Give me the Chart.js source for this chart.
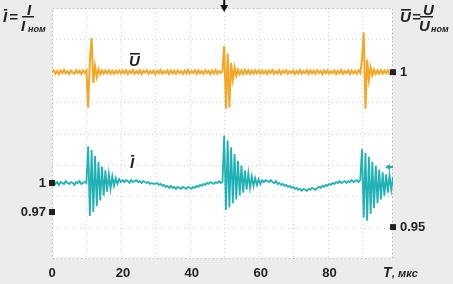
<!DOCTYPE html>
<html lang="ru">
<head>
  <meta charset="UTF-8">
  <title>U и I во времени</title>
  <script src="https://cdn.jsdelivr.net/npm/chart.js"></script>
  <style>
    body {
      margin: 0;
      padding: 0;
      background: #ececec;
    }
    canvas {
      display: block;
    }
  </style>
</head>
<body>
  <canvas id="chart" width="453" height="284"></canvas>

  <script>
    // sample step 0.5 мкс, 0 ... 99 мкс
    const STEP = 0.5;

    // Ī = I / Iном (left axis)
    const currentVals = [
      1.000, 1.002, 0.999, 1.001, 0.998, 1.001, 1.000, 0.999, 1.002, 1.000, 0.999, 1.001, 1.000, 0.998, 1.001, 1.000, 1.002, 0.999, 1.000, 1.001,
      1.000, 1.038, 0.966, 1.034, 0.970, 1.028, 0.976, 1.022, 0.982, 1.017, 0.987, 1.013, 0.991, 1.009, 0.994, 1.007, 0.997, 1.005, 0.999, 1.004,
      1.001, 1.003, 1.001, 1.003, 1.002, 1.000, 1.003, 1.001, 1.002, 1.003, 1.001, 1.002, 1.000, 1.002, 1.001, 1.000, 1.001, 0.999, 1.000, 0.999,
      0.999, 1.000, 0.998, 0.999, 0.997, 0.998, 0.996, 0.997, 0.995, 0.997, 0.995, 0.996, 0.994, 0.996, 0.995, 0.994, 0.996, 0.995, 0.994, 0.996,
      0.995, 0.994, 0.996, 0.995, 0.997, 0.996, 0.998, 0.997, 0.999, 0.998, 1.000, 0.999, 1.001, 1.000, 0.999, 1.001, 1.000, 1.002, 1.000, 1.001,
      1.049, 0.972, 1.044, 0.975, 1.037, 0.979, 1.030, 0.983, 1.023, 0.987, 1.018, 0.990, 1.013, 0.993, 1.010, 0.995, 1.007, 0.997, 1.005, 0.998,
      1.004, 0.999, 1.003, 1.001, 1.003, 1.002, 1.001, 1.003, 1.001, 1.000, 1.002, 0.999, 1.000, 0.998, 0.999, 0.997, 0.998, 0.996, 0.997, 0.995,
      0.996, 0.994, 0.995, 0.993, 0.994, 0.992, 0.994, 0.993, 0.992, 0.994, 0.993, 0.995, 0.994, 0.993, 0.995, 0.996, 0.995, 0.997, 0.996, 0.998,
      0.997, 0.999, 0.998, 1.000, 0.999, 1.001, 1.000, 1.002, 1.000, 1.001, 1.002, 1.000, 1.002, 1.001, 1.003, 1.001, 1.002, 1.003, 1.001, 1.003,
      1.035, 0.964, 1.031, 0.961, 1.027, 0.968, 1.022, 0.974, 1.018, 0.979, 1.014, 0.983, 1.011, 0.987, 1.009, 0.990, 1.008, 0.993, 1.006
    ];

    // Ū = U / Uном (right axis)
    const voltageVals = [
      1.0000, 1.0006, 0.9995, 1.0004, 0.9994, 1.0005, 0.9997, 1.0007, 0.9996, 1.0003, 0.9994, 1.0005, 0.9999, 0.9995, 1.0006, 0.9997, 1.0004, 0.9994, 1.0005, 0.9998,
      1.0006, 0.9885, 1.0035, 1.0110, 0.9965, 1.0020, 0.9985, 1.0010, 0.9993, 1.0006, 0.9995, 1.0005, 0.9996, 1.0006, 0.9995, 1.0004, 0.9995, 1.0005, 0.9997, 1.0005,
      0.9995, 1.0005, 0.9996, 1.0006, 0.9994, 1.0004, 0.9997, 1.0007, 0.9995, 1.0003, 0.9996, 1.0006, 0.9994, 1.0004, 0.9998, 1.0006, 0.9995, 1.0003, 0.9997, 1.0005,
      0.9994, 1.0004, 0.9996, 1.0007, 0.9995, 1.0003, 0.9997, 1.0006, 0.9994, 1.0005, 0.9996, 1.0004, 0.9995, 1.0006, 0.9997, 1.0003, 0.9994, 1.0005, 0.9996, 1.0007,
      0.9995, 1.0004, 0.9997, 1.0006, 0.9994, 1.0005, 0.9996, 1.0003, 0.9995, 1.0006, 0.9997, 1.0004, 0.9994, 1.0005, 0.9996, 1.0007, 0.9995, 1.0004, 0.9997, 1.0005,
      1.0084, 0.9882, 1.0060, 0.9886, 1.0030, 0.9975, 1.0015, 0.9988, 1.0008, 0.9993, 1.0006, 0.9994, 1.0007, 0.9995, 1.0006, 0.9994, 1.0005, 0.9995, 1.0006, 0.9996,
      1.0005, 0.9995, 1.0006, 0.9996, 1.0004, 0.9994, 1.0005, 0.9997, 1.0007, 0.9995, 1.0003, 0.9996, 1.0006, 0.9994, 1.0004, 0.9997, 1.0006, 0.9995, 1.0003, 0.9997,
      1.0005, 0.9994, 1.0004, 0.9996, 1.0007, 0.9995, 1.0003, 0.9997, 1.0006, 0.9994, 1.0005, 0.9996, 1.0004, 0.9995, 1.0006, 0.9997, 1.0004, 0.9994, 1.0005, 0.9996,
      1.0006, 0.9995, 1.0003, 0.9997, 1.0005, 0.9994, 1.0004, 0.9996, 1.0007, 0.9995, 1.0003, 0.9997, 1.0006, 0.9994, 1.0005, 0.9996, 1.0004, 0.9995, 1.0006, 0.9997,
      1.0040, 1.0128, 0.9882, 1.0040, 0.9975, 1.0015, 0.9990, 1.0008, 0.9994, 1.0006, 0.9995, 1.0006, 0.9995, 1.0005, 0.9996, 1.0006, 0.9995, 1.0004, 0.9997
    ];

    const xTicks = [0, 20, 40, 60, 80];
    const leftTicks = [1, 0.97];
    const rightTicks = [1, 0.95];

    const times = currentVals.map((v, i) => i * STEP);

    const ORANGE = '#f5a623';
    const TEAL = '#1fb1b3';
    const TEXT = '#222';

    // text in the form X̄ with overline
    function barText(ctx, txt, x, y) {
      ctx.fillText(txt, x, y);
      const w = ctx.measureText(txt).width;
      ctx.fillRect(x + 1, y - 13, w - 1, 1.6);
    }

    const decor = {
      id: 'decor',
      beforeDraw(chart) {
        const { ctx, chartArea: a, scales } = chart;
        ctx.save();
        ctx.fillStyle = '#fff';
        ctx.fillRect(a.left, a.top, a.right - a.left, a.bottom - a.top);

        // dotted grid, 10 x 8 divisions
        ctx.strokeStyle = '#d0d0d0';
        ctx.lineWidth = 1;
        ctx.setLineDash([1, 3]);
        for (let t = 10; t < scales.x.max; t += 10) {
          const px = Math.round(scales.x.getPixelForValue(t)) + 0.5;
          ctx.beginPath();
          ctx.moveTo(px, a.top);
          ctx.lineTo(px, a.bottom);
          ctx.stroke();
        }
        const h = (a.bottom - a.top) / 8;
        for (let k = 1; k < 8; k++) {
          const py = Math.round(a.top + k * h) + 0.5;
          ctx.beginPath();
          ctx.moveTo(a.left, py);
          ctx.lineTo(a.right, py);
          ctx.stroke();
        }
        // border
        ctx.strokeStyle = '#bcbcbc';
        ctx.setLineDash([2, 2]);
        ctx.strokeRect(a.left + 0.5, a.top + 0.5, a.right - a.left - 1, a.bottom - a.top - 1);
        ctx.restore();
      },
      afterDraw(chart) {
        const { ctx, chartArea: a, scales } = chart;
        ctx.save();
        ctx.fillStyle = TEXT;
        ctx.textBaseline = 'middle';

        // x tick labels
        ctx.font = 'bold 13px "Liberation Sans", Arial, sans-serif';
        ctx.textAlign = 'center';
        xTicks.forEach(v => {
          ctx.fillText(String(v), scales.x.getPixelForValue(v) + (v === 0 ? 0 : 2), 273);
        });
        ctx.textAlign = 'left';
        ctx.font = 'italic bold 14px "Liberation Sans", Arial, sans-serif';
        ctx.fillText('T', 383, 273);
        ctx.font = 'italic bold 11px "Liberation Sans", Arial, sans-serif';
        ctx.fillText(', мкс', 392, 274);

        // left axis labels + markers
        ctx.font = 'bold 13px "Liberation Sans", Arial, sans-serif';
        ctx.textAlign = 'right';
        leftTicks.forEach(v => {
          const py = scales.yI.getPixelForValue(v);
          ctx.fillText(String(v), 46, py);
          ctx.fillRect(a.left - 3, py - 3, 6, 6);
        });
        // right axis labels + markers
        ctx.textAlign = 'left';
        rightTicks.forEach(v => {
          const py = scales.yU.getPixelForValue(v);
          ctx.fillText(String(v), 400, py);
          ctx.fillRect(a.right - 3, py - 3, 6, 6);
        });

        // formulas
        ctx.font = 'italic bold 15px "Liberation Sans", Arial, sans-serif';
        ctx.textBaseline = 'alphabetic';
        barText(ctx, 'I', 3, 22);
        ctx.fillText('=', 9, 22);
        ctx.fillText('I', 27, 15);
        ctx.fillRect(22, 16, 12, 1.5);
        ctx.fillText('I', 21, 31);
        ctx.font = 'italic bold 9px "Liberation Sans", Arial, sans-serif';
        ctx.fillText('ном', 28, 32);

        ctx.font = 'italic bold 15px "Liberation Sans", Arial, sans-serif';
        barText(ctx, 'U', 400, 22);
        ctx.fillText('=', 412, 22);
        ctx.fillText('U', 423, 15);
        ctx.fillRect(420, 16, 13, 1.5);
        ctx.fillText('U', 419, 31);
        ctx.font = 'italic bold 9px "Liberation Sans", Arial, sans-serif';
        ctx.fillText('ном', 431, 32);

        // series names
        ctx.font = 'italic bold 15px "Liberation Sans", Arial, sans-serif';
        barText(ctx, 'U', 129, 66);
        barText(ctx, 'I', 130, 168);

        // trigger arrow at top
        const tx = scales.x.getPixelForValue(50);
        ctx.fillStyle = '#111';
        ctx.fillRect(tx - 1, 0, 2, 6);
        ctx.beginPath();
        ctx.moveTo(tx - 4, 5);
        ctx.lineTo(tx + 4, 5);
        ctx.lineTo(tx, 12);
        ctx.closePath();
        ctx.fill();

        // teal level arrow on the right
        ctx.fillStyle = TEAL;
        ctx.beginPath();
        ctx.moveTo(385, 167);
        ctx.lineTo(390, 164);
        ctx.lineTo(390, 170);
        ctx.closePath();
        ctx.fill();
        ctx.fillRect(389, 166, 4, 2);
        ctx.restore();
      }
    };

    new Chart(document.getElementById('chart'), {
      type: 'line',
      data: {
        datasets: [
          {
            label: 'U',
            data: times.map((t, i) => ({ x: t, y: voltageVals[i] })),
            yAxisID: 'yU',
            borderColor: ORANGE,
            borderWidth: 2,
            pointRadius: 0,
            tension: 0
          },
          {
            label: 'I',
            data: times.map((t, i) => ({ x: t, y: currentVals[i] })),
            yAxisID: 'yI',
            borderColor: TEAL,
            borderWidth: 1.8,
            pointRadius: 0,
            tension: 0
          }
        ]
      },
      options: {
        responsive: false,
        animation: false,
        devicePixelRatio: 1,
        layout: { padding: { left: 52, right: 60, top: 8, bottom: 25 } },
        plugins: { legend: { display: false }, tooltip: { enabled: false } },
        scales: {
          x: { type: 'linear', min: 0, max: 99, display: false },
          yI: { position: 'left', min: 0.9214, max: 1.181, display: false },
          yU: { position: 'right', min: 0.9397, max: 1.0207, display: false }
        }
      },
      plugins: [decor]
    });
  </script>
</body>
</html>
